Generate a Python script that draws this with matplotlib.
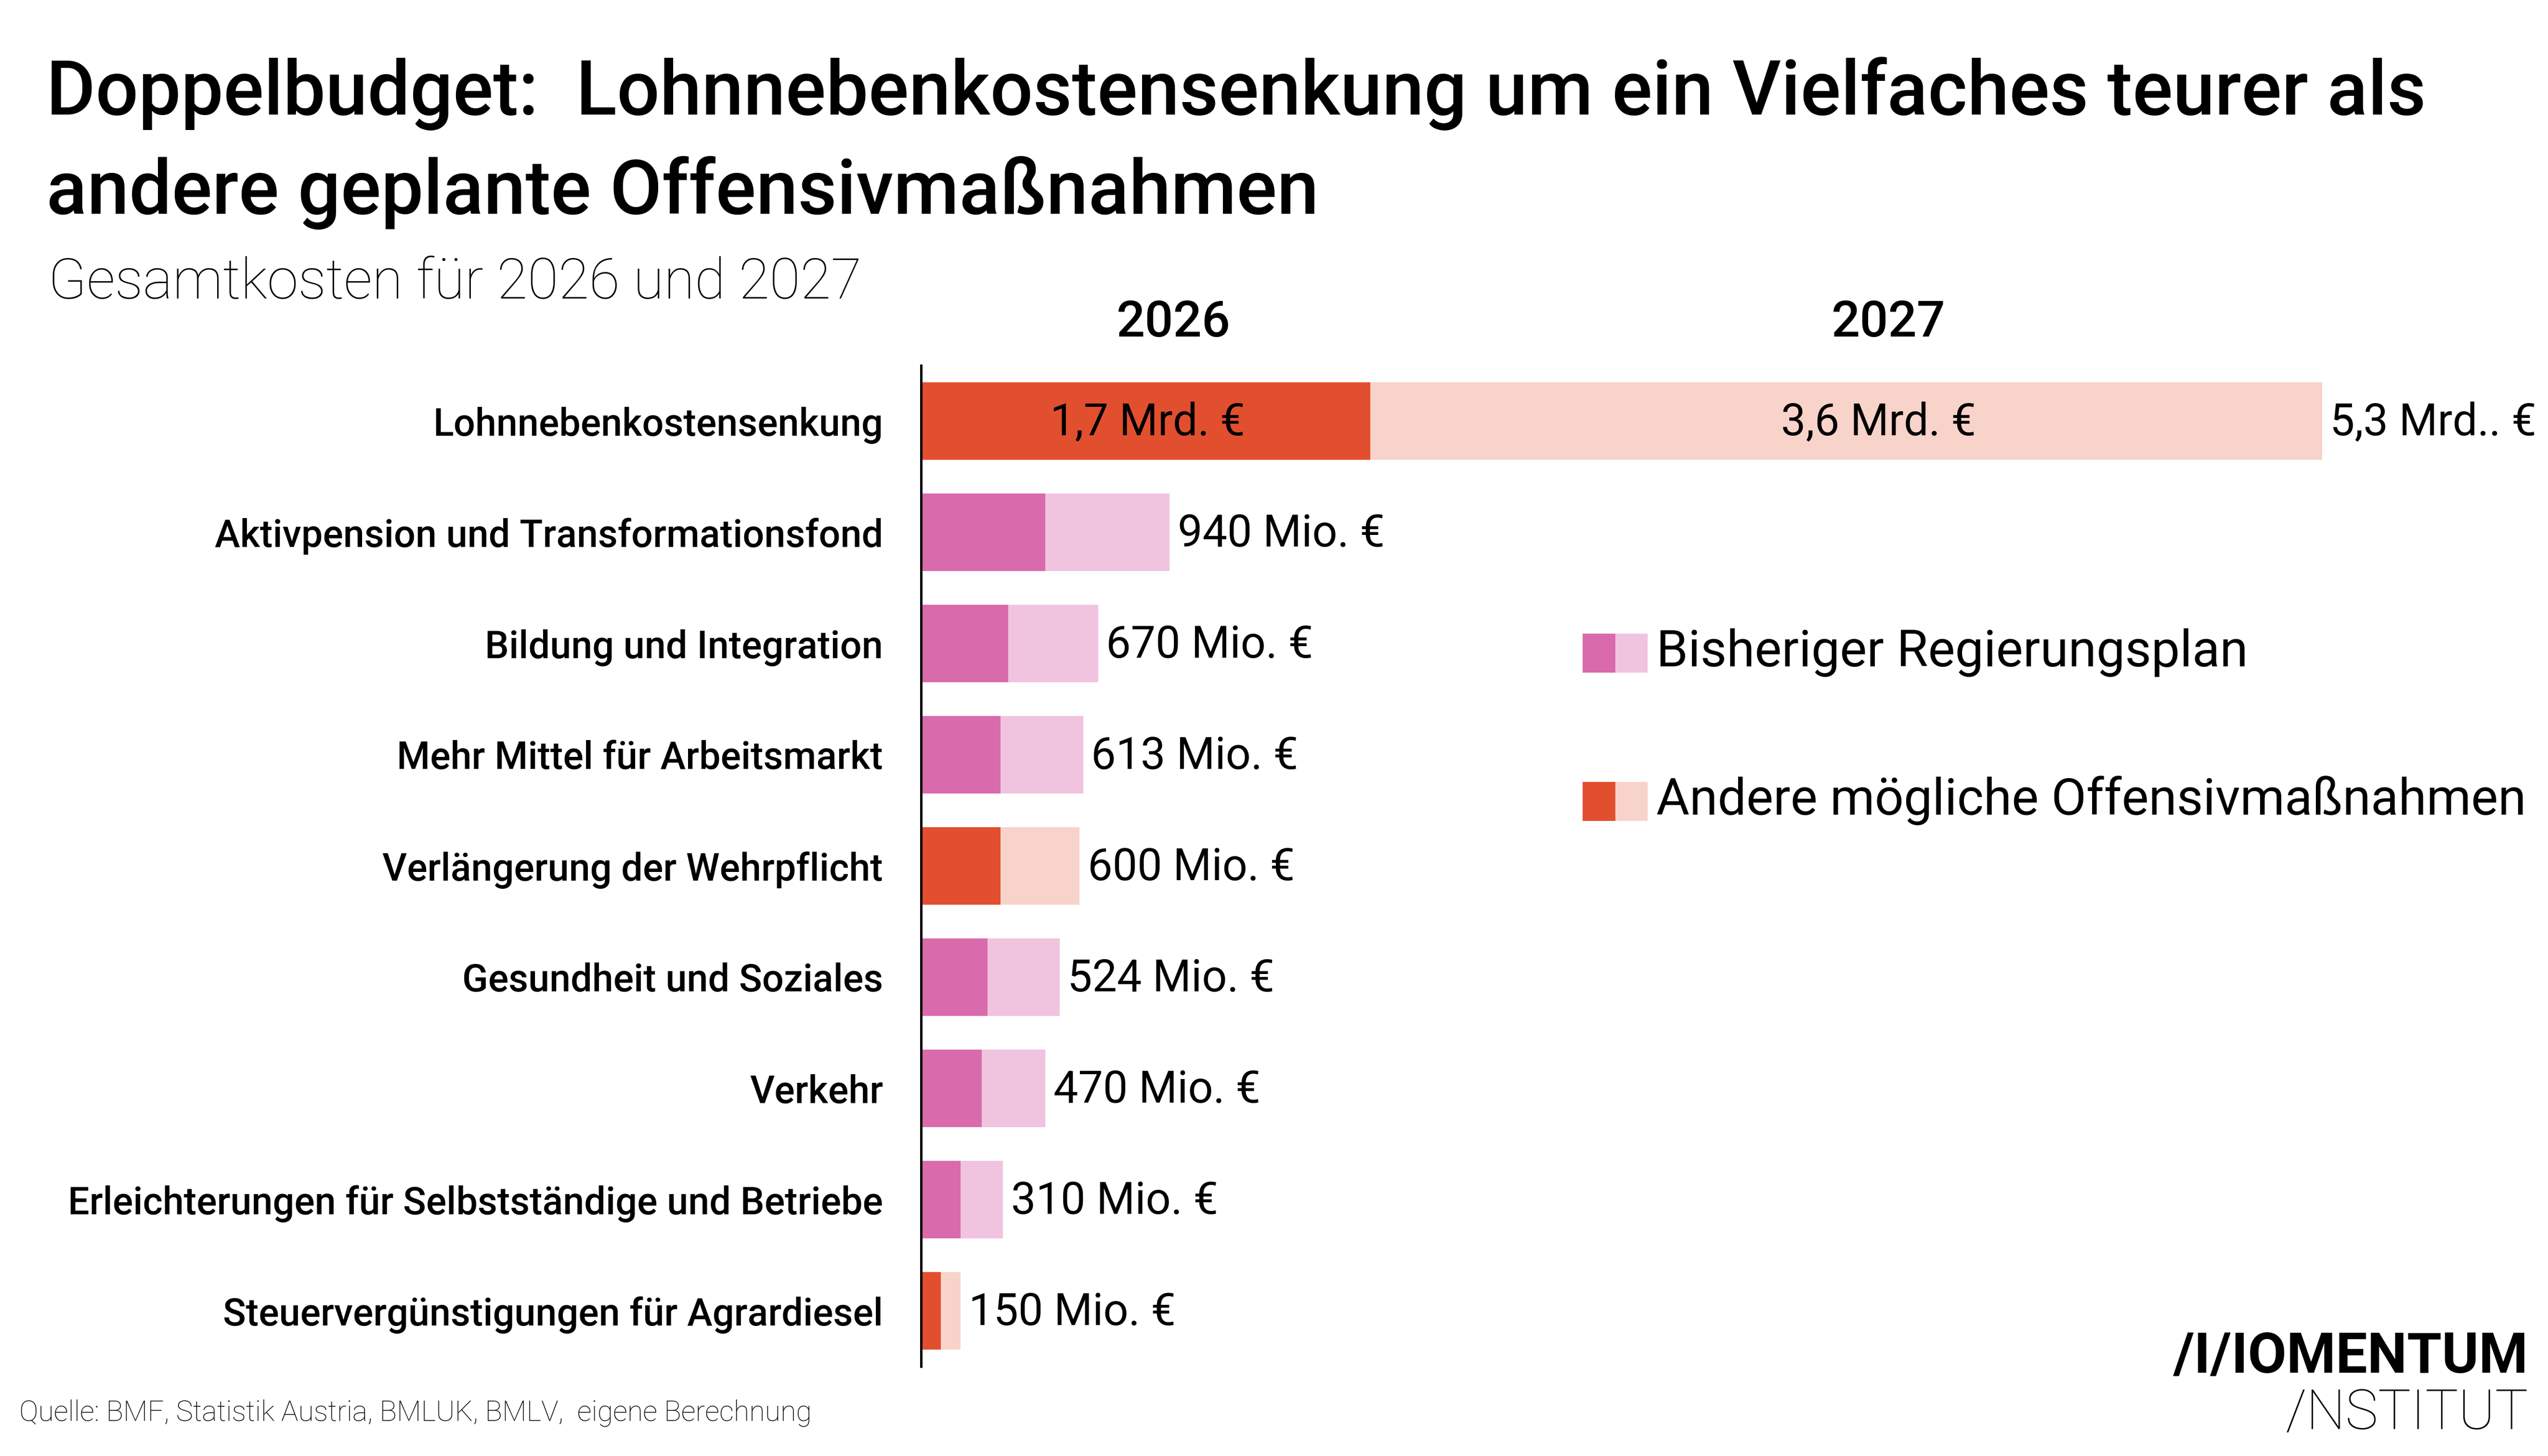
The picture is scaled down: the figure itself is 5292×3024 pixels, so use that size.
import matplotlib.pyplot as plt
from matplotlib.patches import Rectangle

# data (Mio. Euro)
categories = ['Lohnnebenkostensenkung', 'Aktivpension und Transformationsfond',
              'Bildung und Integration', 'Mehr Mittel für Arbeitsmarkt',
              'Verlängerung der Wehrpflicht', 'Gesundheit und Soziales', 'Verkehr',
              'Erleichterungen für Selbstständige und Betriebe',
              'Steuervergünstigungen für Agrardiesel']
costs_2026 = [1700, 470, 330, 300, 300, 252, 230, 150, 75]
costs_2027 = [3600, 470, 340, 313, 300, 272, 240, 160, 75]
total_labels = ['5,3 Mrd.. €', '940 Mio. €', '670 Mio. €', '613 Mio. €', '600 Mio. €',
                '524 Mio. €', '470 Mio. €', '310 Mio. €', '150 Mio. €']
inner_labels = ['1,7 Mrd. €', '3,6 Mrd. €']
groups = ['andere', 'plan', 'plan', 'plan', 'andere', 'plan', 'plan', 'plan', 'andere']
years = ['2026', '2027']
legend_labels = ['Bisheriger Regierungsplan', 'Andere mögliche Offensivmaßnahmen']

dark = {'plan': '#d96bad', 'andere': '#e24f2e'}
light = {'plan': '#f0c4df', 'andere': '#f8d3ca'}

W, H = 5292, 3024
FONT = 'Roboto'


def fx(px):
    return px / W


def fy(py):
    return 1 - py / H


fig = plt.figure(figsize=(W / 300, H / 300), dpi=300)
ax = fig.add_axes([fx(1913), fy(2838), fx(5207) - fx(1913), fy(759) - fy(2838)])

y = list(range(len(categories)))
ax.barh(y, costs_2026, height=0.7, color=[dark[g] for g in groups])
ax.barh(y, costs_2027, left=costs_2026, height=0.7, color=[light[g] for g in groups])
ax.set_xlim(0, 6000)
ax.set_ylim(len(categories) - 0.5, -0.5)

for spine in ['top', 'right', 'bottom']:
    ax.spines[spine].set_visible(False)
ax.spines['left'].set_linewidth(1.2)
ax.set_xticks([])
ax.set_yticks(y)
ax.set_yticklabels(categories, fontfamily=FONT, fontweight='medium', fontsize=19)
ax.tick_params(axis='y', length=0, pad=19)

for i in range(len(categories)):
    total = costs_2026[i] + costs_2027[i]
    ax.annotate(total_labels[i], (total, i), xytext=(4, -1), textcoords='offset points',
                va='center', ha='left', fontfamily=FONT, fontsize=22)

ax.annotate(inner_labels[0], (costs_2026[0] / 2, 0), xytext=(1, -1),
            textcoords='offset points', ha='center', va='center',
            fontfamily=FONT, fontsize=22)
ax.annotate(inner_labels[1], (costs_2026[0] + costs_2027[0] / 2, 0), xytext=(16, -1),
            textcoords='offset points', ha='center', va='center',
            fontfamily=FONT, fontsize=22)

# year headers
fig.text(fx(2437), fy(670), years[0], ha='center', va='center',
         fontfamily=FONT, fontweight='medium', fontsize=25)
fig.text(fx(3922), fy(670), years[1], ha='center', va='center',
         fontfamily=FONT, fontweight='medium', fontsize=25)

# title
fig.text(fx(96), fy(238), 'Doppelbudget:  Lohnnebenkostensenkung um ein Vielfaches teurer als',
         fontfamily=FONT, fontweight='medium', fontsize=37.6, va='baseline')
fig.text(fx(96), fy(444), 'andere geplante Offensivmaßnahmen',
         fontfamily=FONT, fontweight='medium', fontsize=37.6, va='baseline')
fig.text(fx(100), fy(620), 'Gesamtkosten für 2026 und 2027',
         fontfamily=FONT, fontweight='light', fontsize=28, va='baseline')

# legend
for k, (g, top) in enumerate([('plan', 1316), ('andere', 1624)]):
    fig.add_artist(Rectangle((fx(3287), fy(top + 81)), fx(68), fy(0) - fy(81),
                             transform=fig.transFigure, color=dark[g], lw=0))
    fig.add_artist(Rectangle((fx(3355), fy(top + 81)), fx(67), fy(0) - fy(81),
                             transform=fig.transFigure, color=light[g], lw=0))
    fig.text(fx(3440), fy(top + 68), legend_labels[k], fontfamily=FONT,
             fontsize=25.4, va='baseline')

# source and logo
fig.text(fx(40), fy(2952), 'Quelle: BMF, Statistik Austria, BMLUK, BMLV,  eigene Berechnung',
         fontfamily=FONT, fontweight='light', fontsize=14.2, va='baseline')
fig.text(fx(5251), fy(2851), '/I/IOMENTUM', fontfamily=FONT, fontweight='bold',
         fontsize=28, ha='right', va='baseline')
fig.text(fx(5251), fy(2968), '/NSTITUT', fontfamily=FONT, fontweight='light',
         fontsize=27.5, ha='right', va='baseline')

fig.savefig('out.png', dpi=300, facecolor='white')
